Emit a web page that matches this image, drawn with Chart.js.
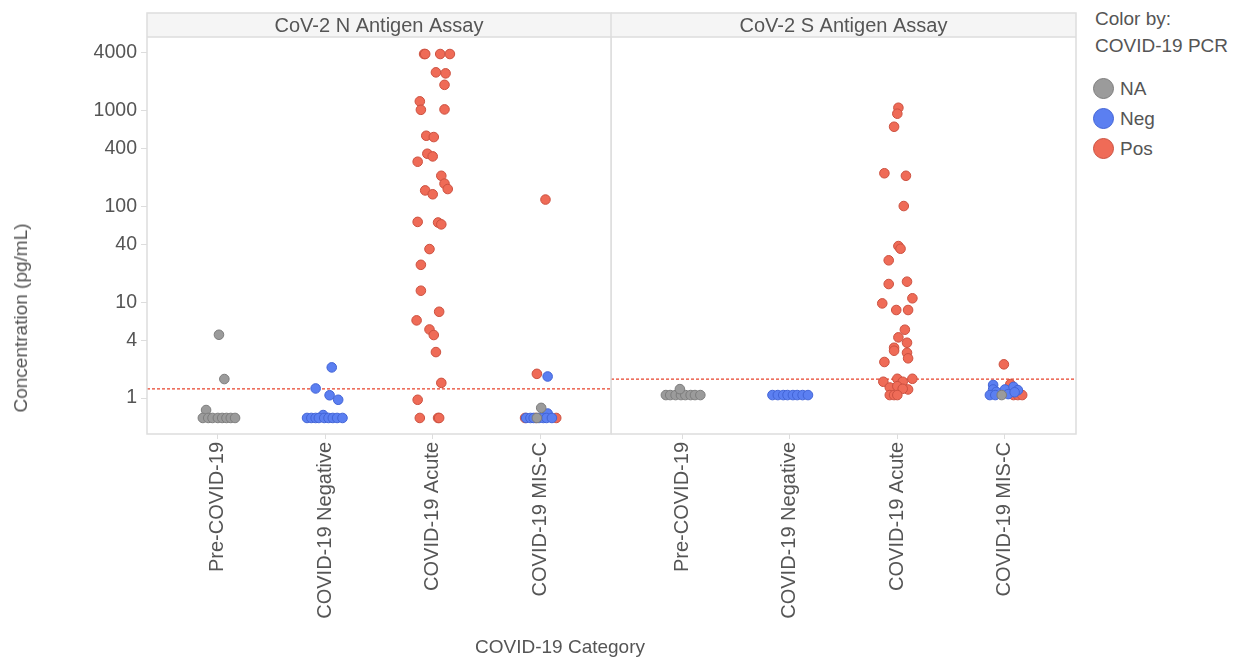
<!DOCTYPE html>
<html>
<head>
<meta charset="utf-8">
<script src="https://cdn.jsdelivr.net/npm/chart.js@4/dist/chart.umd.min.js"></script>
<style>
  body { margin:0; background:#fff; font-family:"Liberation Sans", Arial, sans-serif; color:#555; }
  #wrap { position:relative; width:1235px; height:658px; overflow:hidden; }
  canvas { position:absolute; top:0; }
  #cLeft { left:0; }
  #cRight { left:611px; }
  #yTitle { position:absolute; left:21px; top:318px; transform:translate(-50%,-50%) rotate(-90deg); font-size:19px; white-space:nowrap; }
  #xTitle { position:absolute; left:560px; top:647px; transform:translate(-50%,-50%); font-size:19px; white-space:nowrap; }
  #legend { position:absolute; left:1095px; top:5px; font-size:19px; line-height:27px; }
  #legend .item { display:flex; align-items:center; height:30px; margin-left:-2px; }
  #legend .dot { width:21px; height:21px; border-radius:50%; margin-right:6px; box-sizing:border-box; border:1.5px solid; }
  #legend .gap { height:14px; }
</style>
</head>
<body>
<div id="wrap">
  <canvas id="cLeft" width="612" height="658"></canvas>
  <canvas id="cRight" width="467" height="658"></canvas>
  <div id="yTitle">Concentration (pg/mL)</div>
  <div id="xTitle">COVID-19 Category</div>
  <div id="legend"></div>
</div>
<script>
// categories, groups and axis ticks
const categories = ['Pre-COVID-19', 'COVID-19 Negative', 'COVID-19 Acute', 'COVID-19 MIS-C'];
const pcrGroups = ['NA', 'Neg', 'Pos'];
const yTicks = [1, 4, 10, 40, 100, 400, 1000, 4000];
const panelTitles = ['CoV-2 N Antigen Assay', 'CoV-2 S Antigen Assay'];
const cutoffs = [1.25, 1.58];   // dashed positivity lines (N, S)

// points: [category index, jitter, concentration]
const nNA = [
  [0,0.01,4.58],[0,0.06,1.58],[0,-0.11,0.75],
  [0,-0.14,0.62],[0,-0.09,0.62],[0,-0.05,0.62],[0,0,0.62],[0,0.04,0.62],[0,0.08,0.62],[0,0.12,0.62],[0,0.16,0.62],
  [3,0.01,0.79],[3,-0.03,0.62]
];
const nNeg = [
  [1,0.06,2.09],[1,-0.09,1.26],[1,0.04,1.07],[1,0.12,0.96],[1,-0.02,0.665],
  [1,-0.17,0.62],[1,-0.13,0.62],[1,-0.09,0.62],[1,-0.06,0.62],[1,-0.01,0.62],[1,0.03,0.62],[1,0.07,0.62],[1,0.11,0.62],[1,0.16,0.62],
  [3,0.07,1.68],[3,0.07,0.69],[3,-0.13,0.62],[3,-0.09,0.62],[3,-0.06,0.62],[3,-0.01,0.62],[3,0.03,0.62],[3,0.06,0.62],[3,0.11,0.62]
];
const nPos = [
  [2,-0.08,3900],[2,-0.07,3900],[2,0.07,3900],[2,0.16,3900],
  [2,0.03,2510],[2,0.12,2450],[2,0.11,1860],
  [2,-0.12,1250],[2,-0.11,1020],[2,0.11,1030],
  [2,-0.06,547],[2,0.01,530],
  [2,-0.05,355],[2,0,333],[2,-0.14,293],
  [2,0.08,209],[2,0.11,173],[2,0.14,152],[2,-0.07,147],[2,0,134],
  [2,-0.14,69],[2,0.05,68],[2,0.08,65],
  [2,-0.03,35.9],[2,-0.11,24.6],[2,-0.11,13.2],[2,0.06,7.96],[2,-0.15,6.47],[2,-0.03,5.2],[2,0.01,4.55],
  [2,0.03,3.02],[2,0.08,1.44],[2,-0.14,0.96],[2,-0.12,0.62],[2,0.05,0.62],[2,0.06,0.62],
  [3,0.05,118],[3,-0.03,1.79],[3,-0.14,0.62],[3,0.15,0.62],[3,-0.04,0.62]
];
const sNA = [
  [0,-0.15,1.075],[0,-0.11,1.075],[0,-0.06,1.075],[0,-0.01,1.075],[0,0.03,1.075],[0,0.08,1.075],[0,0.12,1.075],[0,0.17,1.075],[0,-0.02,1.24],
  [3,-0.03,1.075]
];
const sNeg = [
  [1,-0.16,1.075],[1,-0.11,1.075],[1,-0.06,1.075],[1,-0.02,1.075],[1,0.03,1.075],[1,0.07,1.075],[1,0.12,1.075],[1,0.17,1.075],
  [3,-0.11,1.37],[3,-0.11,1.23],[3,-0.08,1.16],[3,0,1.23],[3,0.08,1.31],[3,0.12,1.21],[3,-0.14,1.075],[3,-0.09,1.075],[3,0.03,1.1],[3,0.09,1.15]
];
const sPos = [
  [2,0.01,1072],[2,0,929],[2,-0.03,679],
  [2,-0.12,222],[2,0.08,209],[2,0.06,101],
  [2,0.01,38.6],[2,0.03,36.2],[2,-0.08,27.4],
  [2,-0.08,15.5],[2,0.09,16.4],[2,0.14,11.0],[2,-0.14,9.73],[2,-0.01,8.3],[2,0.1,8.3],
  [2,0.07,5.17],[2,0.01,4.3],[2,0.09,3.78],[2,-0.03,3.35],[2,-0.03,3.12],[2,0.09,2.97],[2,0.1,2.6],[2,-0.12,2.38],
  [2,0.14,1.59],[2,0,1.59],[2,-0.13,1.48],[2,0.05,1.48],
  [2,-0.07,1.29],[2,0,1.33],[2,0.1,1.23],[2,0.05,1.25],
  [2,-0.07,1.075],[2,-0.03,1.075],[2,0,1.075],
  [3,-0.01,2.25],[3,0.05,1.4],[3,0.08,1.075],[3,0.12,1.075],[3,0.16,1.075],[3,0.05,1.2]
];

const FONT = '"Liberation Sans", Arial, sans-serif';
const fills = ['#9b9b9b', '#5b7ff1', '#ef6b57'];
const strokes = ['#7d7d7d', '#4264d6', '#cc5140'];
const X_MIN = -0.66, X_MAX = 3.66;

// legend (html)
const legendEl = document.getElementById('legend');
legendEl.innerHTML = '<div>Color by:</div><div>COVID-19 PCR</div><div class="gap"></div>' +
  pcrGroups.map((g, i) => `<div class="item"><span class="dot" style="background:${fills[i]};border-color:${strokes[i]}"></span>${g}</div>`).join('');

// panel frame + header strip
const panelFrame = {
  id: 'panelFrame',
  afterDraw(chart, args, opts) {
    const { ctx, chartArea: a } = chart;
    const top = a.top - 24;
    ctx.save();
    ctx.fillStyle = '#f5f5f5';
    ctx.fillRect(a.left, top, a.right - a.left, 24);
    ctx.strokeStyle = '#dddddd';
    ctx.lineWidth = 1.5;
    ctx.strokeRect(a.left, top, a.right - a.left, a.bottom - top);
    ctx.beginPath(); ctx.moveTo(a.left, a.top); ctx.lineTo(a.right, a.top); ctx.stroke();
    ctx.fillStyle = '#555';
    ctx.font = '20px ' + FONT;
    ctx.textAlign = 'center'; ctx.textBaseline = 'middle';
    ctx.fillText(opts.title, (a.left + a.right) / 2, top + 13);
    ctx.restore();
  }
};

const toXY = pts => pts.map(([c, j, v]) => ({ x: c + j, y: v }));

function makePanel(id, title, groups, cutoff, showY) {
  const datasets = groups.map((pts, i) => ({
    label: pcrGroups[i],
    data: toXY(pts),
    backgroundColor: fills[i],
    borderColor: strokes[i],
    borderWidth: 1,
    pointRadius: 4.8
  }));
  datasets.push({
    label: 'cutoff',
    data: [{ x: X_MIN, y: cutoff }, { x: X_MAX, y: cutoff }],
    showLine: true, pointRadius: 0,
    borderColor: '#e8432d', borderWidth: 1.3, borderDash: [3, 2]
  });

  return new Chart(document.getElementById(id), {
    type: 'scatter',
    data: { datasets },
    plugins: [panelFrame],
    options: {
      responsive: false,
      animation: false,
      layout: { autoPadding: false, padding: { top: 37, left: 0, right: showY ? 1 : 2, bottom: 0 } },
      plugins: { legend: { display: false }, tooltip: { enabled: false }, panelFrame: { title } },
      scales: {
        x: {
          type: 'linear', min: X_MIN, max: X_MAX,
          afterBuildTicks: s => { s.ticks = categories.map((_, i) => ({ value: i })); },
          afterFit: s => { s.height = 224; s.paddingLeft = 0; s.paddingRight = 0; },
          grid: { drawOnChartArea: false, drawTicks: true, tickLength: 5, color: '#dddddd' },
          border: { display: false },
          ticks: {
            autoSkip: false, minRotation: 90, maxRotation: 90, padding: 3,
            color: '#555', font: { family: FONT, size: 20 },
            callback: v => categories[v]
          }
        },
        y: {
          type: 'logarithmic', min: 0.4217, max: 5870,
          display: showY,
          afterBuildTicks: s => { s.ticks = yTicks.map(v => ({ value: v })); },
          afterFit: s => { if (showY) s.width = 147; s.paddingTop = 0; s.paddingBottom = 0; },
          grid: { drawOnChartArea: false, drawTicks: true, tickLength: 6, color: '#dddddd' },
          border: { display: false },
          ticks: { padding: 4, color: '#555', font: { family: FONT, size: 19.5 }, callback: v => String(v) }
        }
      }
    }
  });
}

makePanel('cLeft', panelTitles[0], [nNA, nNeg, nPos], cutoffs[0], true);
makePanel('cRight', panelTitles[1], [sNA, sNeg, sPos], cutoffs[1], false);
</script>
</body>
</html>
